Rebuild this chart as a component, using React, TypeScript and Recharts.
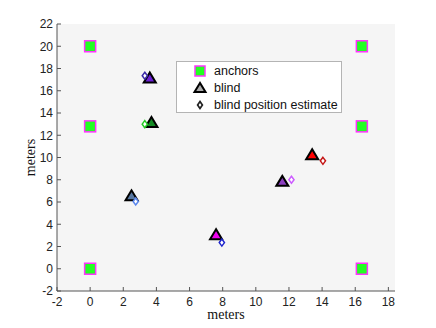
import { ScatterChart, Scatter, XAxis, YAxis, CartesianGrid, Legend, Label } from 'recharts';

// anchor positions (meters)
const anchorX = [0, 0, 0, 16.4, 16.4, 16.4];
const anchorY = [20, 12.8, 0, 20, 12.8, 0];

// true blind node positions
const blindX = [3.6, 3.7, 2.5, 7.6, 11.6, 13.4];
const blindY = [17.2, 13.2, 6.6, 3.1, 7.9, 10.3];

// estimated blind positions
const estX = [3.3, 3.3, 2.75, 7.95, 12.15, 14.05];
const estY = [17.35, 13.0, 6.05, 2.35, 8.0, 9.7];

const xTicks = [-2, 0, 2, 4, 6, 8, 10, 12, 14, 16, 18];
const yTicks = [-2, 0, 2, 4, 6, 8, 10, 12, 14, 16, 18, 20, 22];

const blindFill = ['#6a1fd4', '#148a24', '#5676a0', '#f000f0', '#8c3fc0', '#ff0000'];
const estStroke = ['#3a2aa8', '#22cc22', '#5a86ec', '#1a22cc', '#cc5cff', '#c41414'];

const anchors = anchorX.map((x, i) => ({ x, y: anchorY[i] }));
const blinds = blindX.map((x, i) => ({ x, y: blindY[i], c: blindFill[i] }));
const estimates = estX.map((x, i) => ({ x, y: estY[i], c: estStroke[i] }));

const SquareShape = (props: any) => {
  const { cx, cy } = props;
  return <rect x={cx - 5.5} y={cy - 5.5} width={11} height={11} fill="#22ff22" stroke="#ff33ff" strokeWidth={1.5} />;
};

const TriangleShape = (props: any) => {
  const { cx, cy, payload } = props;
  const pts = `${cx},${cy - 5} ${cx - 6},${cy + 5} ${cx + 6},${cy + 5}`;
  return <polygon points={pts} fill={payload.c} stroke="#000" strokeWidth={2} strokeLinejoin="miter" />;
};

const DiamondShape = (props: any) => {
  const { cx, cy, payload } = props;
  const pts = `${cx},${cy - 3.5} ${cx + 2.6},${cy} ${cx},${cy + 3.5} ${cx - 2.6},${cy}`;
  return <polygon points={pts} fill="#fff" stroke={payload.c} strokeWidth={1.5} />;
};

const LegendBox = () => (
  <div
    style={{
      width: 166,
      height: 52,
      boxSizing: 'border-box',
      border: '1px solid #b4b4b4',
      background: '#fff',
      fontFamily: 'Liberation Sans, Arial, sans-serif',
      fontSize: 12.5,
      color: '#111',
      paddingTop: 1,
    }}
  >
    {[
      { label: 'anchors', icon: <rect x={3} y={3} width={10} height={10} fill="#22ff22" stroke="#ff33ff" strokeWidth={1.5} /> },
      { label: 'blind', icon: <polygon points="8,3 2.5,12 13.5,12" fill="#aaaaaa" stroke="#000" strokeWidth={2} /> },
      { label: 'blind position estimate', icon: <polygon points="8,4.5 10.4,8 8,11.5 5.6,8" fill="#fff" stroke="#222" strokeWidth={1.7} /> },
    ].map((row) => (
      <div key={row.label} style={{ display: 'flex', alignItems: 'center', height: 16.8 }}>
        <svg width={16} height={16} style={{ marginLeft: 15, marginRight: 6 }}>
          {row.icon}
        </svg>
        <span>{row.label}</span>
      </div>
    ))}
  </div>
);

const tickStyle = { fontSize: 12, fill: '#222', fontFamily: 'Liberation Sans, Arial, sans-serif' };
const axisStroke = '#555';

export default function App() {
  return (
    <div style={{ position: 'absolute', left: 0, top: 0, width: 436, height: 328, background: '#fff' }}>
      <ScatterChart width={436} height={328} margin={{ top: 24, right: 41, bottom: 0, left: 0 }}>
        <CartesianGrid fill="#f5f5f5" horizontal={false} vertical={false} />
        <XAxis
          type="number"
          dataKey="x"
          domain={[-2, 18.4]}
          ticks={xTicks}
          allowDataOverflow
          height={37}
          tick={tickStyle}
          tickSize={-4}
          tickMargin={10}
          stroke={axisStroke}
          tickLine={{ stroke: axisStroke }}
        >
          <Label
            value="meters"
            position="insideBottom"
            offset={9}
            style={{ fontFamily: 'Liberation Serif, Times New Roman, serif', fontSize: 14, fill: '#111' }}
          />
        </XAxis>
        <YAxis
          type="number"
          dataKey="y"
          domain={[-2, 22]}
          ticks={yTicks}
          allowDataOverflow
          width={57}
          tick={tickStyle}
          tickSize={-4}
          tickMargin={8}
          stroke={axisStroke}
          tickLine={{ stroke: axisStroke }}
        >
          <Label
            value="meters"
            angle={-90}
            position="insideLeft"
            offset={30}
            style={{ textAnchor: 'middle', fontFamily: 'Liberation Serif, Times New Roman, serif', fontSize: 14, fill: '#111' }}
          />
        </YAxis>
        <Legend
          layout="horizontal"
          verticalAlign="middle"
          align="center"
          content={() => <LegendBox />}
          wrapperStyle={{ position: 'absolute', left: 176, top: 61, width: 166, height: 52 }}
        />
        <Scatter data={anchors} shape={SquareShape} isAnimationActive={false} />
        <Scatter data={blinds} shape={TriangleShape} isAnimationActive={false} />
        <Scatter data={estimates} shape={DiamondShape} isAnimationActive={false} />
      </ScatterChart>
    </div>
  );
}
